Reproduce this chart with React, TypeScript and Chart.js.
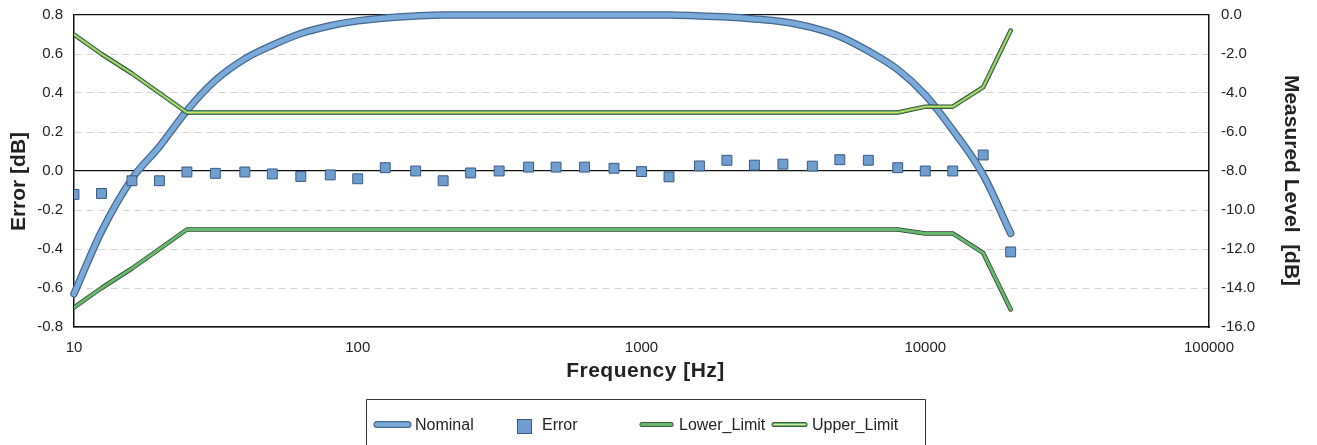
import React, { useEffect, useRef } from 'react';
import { Chart, registerables } from 'chart.js';

Chart.register(...registerables);

// ---- data ----
const FREQ_HZ = [
  10, 12.5, 16, 20, 25, 31.5, 40, 50, 63, 80, 100, 125, 160, 200, 250, 315, 400,
  500, 630, 800, 1000, 1250, 1600, 2000, 2500, 3150, 4000, 5000, 6300, 8000,
  10000, 12500, 16000, 20000,
];

const NOMINAL_DB = [
  -14.3, -11.1, -8.4, -6.75, -4.9, -3.35, -2.25, -1.55, -0.95, -0.55, -0.3,
  -0.15, -0.05, 0, 0, 0, 0, 0, 0, 0, 0, 0, -0.05, -0.1, -0.2, -0.35, -0.65,
  -1.1, -1.85, -2.8, -4.1, -5.9, -8.2, -11.2,
];

const ERROR_DB = [
  -0.12, -0.115, -0.05, -0.05, -0.005, -0.012, -0.005, -0.015, -0.028, -0.02,
  -0.04, 0.017, 0.0, -0.05, -0.01, 0.0, 0.02, 0.02, 0.02, 0.014, -0.003, -0.03,
  0.026, 0.055, 0.03, 0.035, 0.025, 0.058, 0.055, 0.017, 0.0, 0.0, 0.082,
  -0.415,
];

const LOWER_LIMIT = [
  -0.7, -0.6, -0.5, -0.4, -0.3, -0.3, -0.3, -0.3, -0.3, -0.3, -0.3, -0.3, -0.3,
  -0.3, -0.3, -0.3, -0.3, -0.3, -0.3, -0.3, -0.3, -0.3, -0.3, -0.3, -0.3, -0.3,
  -0.3, -0.3, -0.3, -0.3, -0.32, -0.32, -0.42, -0.71,
];

const UPPER_LIMIT = [
  0.7, 0.6, 0.5, 0.4, 0.3, 0.3, 0.3, 0.3, 0.3, 0.3, 0.3, 0.3, 0.3, 0.3, 0.3,
  0.3, 0.3, 0.3, 0.3, 0.3, 0.3, 0.3, 0.3, 0.3, 0.3, 0.3, 0.3, 0.3, 0.3, 0.3,
  0.33, 0.33, 0.43, 0.72,
];

const X_TICKS = [10, 100, 1000, 10000, 100000];
const LEFT_MIN = -0.8;
const LEFT_MAX = 0.8;
const LEFT_STEP = 0.2;
const RIGHT_MIN = -16;
const RIGHT_MAX = 0;
const RIGHT_STEP = 2;

const X_TITLE = 'Frequency [Hz]';
const LEFT_TITLE = 'Error [dB]';
const RIGHT_TITLE = 'Measured Level  [dB]';

const LEGEND_LABELS = ['Nominal', 'Error', 'Lower_Limit', 'Upper_Limit'];

// ---- styles ----
const FONT = 'Arial, "Liberation Sans", Helvetica, sans-serif';
const TEXT = '#222222';
const BLUE = '#7aaad9';
const BLUE_EDGE = '#45688f';
const GREEN = '#66b86e';
const GREEN_EDGE = '#2c3e2e';
const YELLOW = '#e4e15a';

const pts = (ys: number[]) => FREQ_HZ.map((f, i) => ({ x: f, y: ys[i] }));

const isZero = (v: number) => Math.abs(v) < 1e-9;
const fmt1 = (v: number) => (isZero(v) ? 0 : v).toFixed(1);

type Layer = { color: string; width: number };

function strokeSample(ctx: CanvasRenderingContext2D, x0: number, x1: number, y: number, layers: Layer[]) {
  layers.forEach((l) => {
    ctx.beginPath();
    ctx.lineCap = 'round';
    ctx.strokeStyle = l.color;
    ctx.lineWidth = l.width;
    ctx.moveTo(x0, y);
    ctx.lineTo(x1, y);
    ctx.stroke();
  });
}

const titlesPlugin = {
  id: 'axisTitles',
  afterDraw(chart: any) {
    const ctx: CanvasRenderingContext2D = chart.ctx;
    const area = chart.chartArea;
    ctx.save();
    ctx.fillStyle = TEXT;
    ctx.textAlign = 'center';
    ctx.textBaseline = 'alphabetic';
    ctx.font = `bold 21px ${FONT}`;
    (ctx as any).letterSpacing = '0.5px';
    ctx.fillText(X_TITLE, (area.left + area.right) / 2 + 4, 376.5);
    (ctx as any).letterSpacing = '0px';

    ctx.save();
    ctx.translate(25, 181.5);
    ctx.rotate(-Math.PI / 2);
    ctx.fillText(LEFT_TITLE, 0, 0);
    ctx.restore();

    ctx.save();
    ctx.translate(1285, 180.5);
    ctx.rotate(Math.PI / 2);
    ctx.fillText(RIGHT_TITLE, 0, 0);
    ctx.restore();
    ctx.restore();
  },
};

const legendPlugin = {
  id: 'boxLegend',
  afterDraw(chart: any) {
    const ctx: CanvasRenderingContext2D = chart.ctx;
    ctx.save();
    // frame (bottom edge lies outside the picture)
    ctx.strokeStyle = '#333';
    ctx.lineWidth = 1;
    ctx.beginPath();
    ctx.moveTo(366.5, 450);
    ctx.lineTo(366.5, 399.5);
    ctx.lineTo(925.5, 399.5);
    ctx.lineTo(925.5, 450);
    ctx.stroke();

    const y = 424.5;
    // Nominal
    strokeSample(ctx, 377, 408, y, [
      { color: BLUE_EDGE, width: 7 },
      { color: BLUE, width: 4.5 },
    ]);
    // Error
    ctx.fillStyle = '#6e9ed0';
    ctx.strokeStyle = '#3a5a80';
    ctx.lineWidth = 1;
    ctx.fillRect(517, 419, 15, 15);
    ctx.strokeRect(517.5, 419.5, 14, 14);
    // Lower
    strokeSample(ctx, 642, 671, y, [
      { color: GREEN_EDGE, width: 5 },
      { color: GREEN, width: 3.5 },
    ]);
    // Upper
    strokeSample(ctx, 774, 805, y, [
      { color: GREEN_EDGE, width: 5 },
      { color: GREEN, width: 3.5 },
      { color: '#d8e8a0', width: 1 },
    ]);

    ctx.fillStyle = TEXT;
    ctx.font = `16px ${FONT}`;
    ctx.textAlign = 'left';
    ctx.textBaseline = 'alphabetic';
    const tx = [415, 542, 679, 812];
    LEGEND_LABELS.forEach((t, i) => ctx.fillText(t, tx[i], 429.5));
    ctx.restore();
  },
};

export default function App() {
  const ref = useRef<HTMLCanvasElement | null>(null);

  useEffect(() => {
    if (!ref.current) return;
    const lineBase = {
      pointRadius: 0,
      pointHoverRadius: 0,
      fill: false,
      borderCapStyle: 'round' as const,
      borderJoinStyle: 'round' as const,
    };
    const chart = new Chart(ref.current, {
      type: 'line',
      data: {
        datasets: [
          {
            ...lineBase,
            label: 'Nominal_edge',
            data: pts(NOMINAL_DB),
            yAxisID: 'y2',
            borderColor: BLUE_EDGE,
            borderWidth: 7.5,
            cubicInterpolationMode: 'monotone',
            clip: false,
            order: 9,
          },
          {
            ...lineBase,
            label: LEGEND_LABELS[0],
            data: pts(NOMINAL_DB),
            yAxisID: 'y2',
            borderColor: BLUE,
            borderWidth: 5,
            cubicInterpolationMode: 'monotone',
            clip: false,
            order: 8,
          },
          {
            ...lineBase,
            label: 'Lower_edge',
            data: pts(LOWER_LIMIT),
            yAxisID: 'y',
            borderColor: GREEN_EDGE,
            borderWidth: 4.5,
            order: 7,
          },
          {
            ...lineBase,
            label: LEGEND_LABELS[2],
            data: pts(LOWER_LIMIT),
            yAxisID: 'y',
            borderColor: GREEN,
            borderWidth: 3,
            order: 6,
          },
          {
            ...lineBase,
            label: 'Upper_edge',
            data: pts(UPPER_LIMIT),
            yAxisID: 'y',
            borderColor: GREEN_EDGE,
            borderWidth: 4.5,
            order: 5,
          },
          {
            ...lineBase,
            label: LEGEND_LABELS[3],
            data: pts(UPPER_LIMIT),
            yAxisID: 'y',
            borderColor: GREEN,
            borderWidth: 3,
            order: 4,
          },
          {
            ...lineBase,
            label: 'Upper_hl',
            data: pts(UPPER_LIMIT),
            yAxisID: 'y',
            borderColor: YELLOW,
            borderWidth: 1,
            order: 3,
          },
          {
            label: LEGEND_LABELS[1],
            data: pts(ERROR_DB),
            yAxisID: 'y',
            showLine: false,
            pointStyle: 'rect',
            pointRadius: 7,
            pointHoverRadius: 7,
            backgroundColor: '#6e9ed0',
            borderColor: '#3a5a80',
            borderWidth: 1,
            order: 0,
          },
        ] as any,
      },
      options: {
        responsive: false,
        animation: false,
        events: [],
        layout: { padding: { top: 15, left: 0, right: 0, bottom: 0 } },
        plugins: {
          legend: { display: false },
          tooltip: { enabled: false },
          title: { display: false },
        },
        font: { family: FONT } as any,
        scales: {
          x: {
            type: 'logarithmic',
            position: 'bottom',
            min: 10,
            max: 100000,
            afterBuildTicks: (s: any) => {
              s.ticks = X_TICKS.map((v) => ({ value: v }));
            },
            afterFit: (s: any) => {
              s.height = 118;
            },
            grid: { display: false, drawTicks: false },
            border: { display: true, color: '#111', width: 1.5 },
            ticks: {
              autoSkip: false,
              maxRotation: 0,
              padding: 12,
              color: TEXT,
              font: { family: FONT, size: 15 },
              callback: (v: any) => String(v),
            },
          },
          y: {
            type: 'linear',
            position: 'left',
            min: LEFT_MIN,
            max: LEFT_MAX,
            afterFit: (s: any) => {
              s.width = 74;
              s.paddingTop = 0;
              s.paddingBottom = 0;
            },
            grid: {
              drawTicks: false,
              color: (c: any) => {
                const v = c.tick ? c.tick.value : 1;
                return isZero(v) || Math.abs(Math.abs(v) - 0.8) < 1e-9 ? '#111' : '#d6d6d6';
              },
              lineWidth: (c: any) => {
                const v = c.tick ? c.tick.value : 1;
                return isZero(v) || Math.abs(Math.abs(v) - 0.8) < 1e-9 ? 1.3 : 1;
              },
            },
            border: {
              display: true,
              color: '#111',
              width: 1.5,
              dash: (c: any) => {
                if (!c || !c.tick) return [];
                const v = c.tick.value;
                return isZero(v) || Math.abs(Math.abs(v) - 0.8) < 1e-9 ? [] : [7, 5];
              },
            } as any,
            ticks: {
              stepSize: LEFT_STEP,
              padding: 11,
              color: TEXT,
              font: { family: FONT, size: 15 },
              callback: (v: any) => fmt1(Number(v)),
            },
          },
          y2: {
            type: 'linear',
            position: 'right',
            min: RIGHT_MIN,
            max: RIGHT_MAX,
            afterFit: (s: any) => {
              s.width = 108;
              s.paddingTop = 0;
              s.paddingBottom = 0;
            },
            grid: { display: false, drawTicks: false, drawOnChartArea: false },
            border: { display: true, color: '#111', width: 1.5 },
            ticks: {
              stepSize: RIGHT_STEP,
              padding: 12,
              color: TEXT,
              font: { family: FONT, size: 15 },
              callback: (v: any) => fmt1(Number(v)),
            },
          },
        },
      } as any,
      plugins: [titlesPlugin, legendPlugin],
    });
    return () => chart.destroy();
  }, []);

  return (
    <div style={{ position: 'absolute', left: 0, top: 0, width: 1317, height: 445, background: '#fff' }}>
      <canvas ref={ref} width={1317} height={445} style={{ display: 'block' }} />
    </div>
  );
}
